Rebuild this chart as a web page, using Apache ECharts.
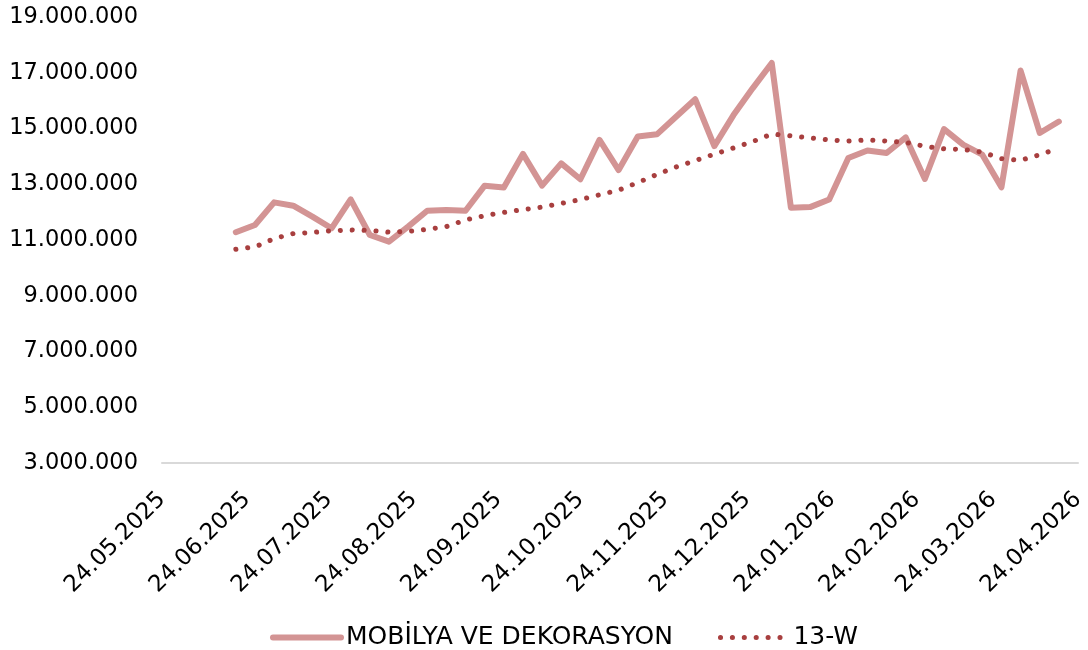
<!DOCTYPE html>
<html lang="tr" style="height: 100%;margin: 0;background-color: #ffffff;">
<head>
    <meta charset="UTF-8">
    <title>chart</title>
</head>
<body style="height: 100%;margin: 0;background-color: #ffffff;">
<div id="chart" style="width: 1088px;height: 650px;margin: 0;"></div>
<script src="https://cdn.jsdelivr.net/npm/echarts@6/dist/echarts.min.js"></script>
<script>
    // weekly dates (dd.mm.yyyy)
    var dates = ["20.06.2025", "27.06.2025", "04.07.2025", "11.07.2025", "18.07.2025", "25.07.2025",
        "01.08.2025", "08.08.2025", "15.08.2025", "22.08.2025", "29.08.2025", "05.09.2025",
        "12.09.2025", "19.09.2025", "26.09.2025", "03.10.2025", "10.10.2025", "17.10.2025",
        "24.10.2025", "31.10.2025", "07.11.2025", "14.11.2025", "21.11.2025", "28.11.2025",
        "05.12.2025", "12.12.2025", "19.12.2025", "26.12.2025", "02.01.2026", "09.01.2026",
        "16.01.2026", "23.01.2026", "30.01.2026", "06.02.2026", "13.02.2026", "20.02.2026",
        "27.02.2026", "06.03.2026", "13.03.2026", "20.03.2026", "27.03.2026", "03.04.2026",
        "10.04.2026", "17.04.2026"];
    var mobilya = [11280000, 11540000, 12350000, 12230000, 11840000, 11420000,
        12460000, 11180000, 10940000, 11480000, 12050000, 12080000,
        12050000, 12950000, 12880000, 14090000, 12950000, 13750000,
        13180000, 14590000, 13510000, 14710000, 14790000, 15420000,
        16050000, 14370000, 15480000, 16440000, 17350000, 12160000,
        12180000, 12450000, 13940000, 14210000, 14120000, 14680000,
        13190000, 14980000, 14420000, 14060000, 12890000, 17080000,
        14840000, 15250000];
    var w13 = [10670000, 10750000, 11050000, 11230000, 11270000, 11330000,
        11360000, 11340000, 11280000, 11310000, 11380000, 11480000,
        11720000, 11870000, 11990000, 12090000, 12180000, 12310000,
        12450000, 12620000, 12790000, 13060000, 13350000, 13620000,
        13850000, 14080000, 14300000, 14530000, 14800000, 14740000,
        14660000, 14590000, 14550000, 14590000, 14550000, 14500000,
        14360000, 14270000, 14250000, 14150000, 13920000, 13860000,
        14060000, 14290000];
    var tickLabels = ["24.05.2025", "24.06.2025", "24.07.2025", "24.08.2025", "24.09.2025", "24.10.2025",
        "24.11.2025", "24.12.2025", "24.01.2026", "24.02.2026", "24.03.2026", "24.04.2026"];
    var legendNames = ["MOBİLYA VE DEKORASYON", "13-W"];

    function parseDate(s) {
        var p = s.split(".");
        return new Date(+p[2], +p[1] - 1, +p[0]).getTime();
    }

    function dotted(n) {
        var s = String(n);
        return s.replace(/\B(?=(\d{3})+(?!\d))/g, ".");
    }

    var tickValues = tickLabels.map(parseDate);
    var labelByTime = {};
    tickLabels.forEach(function (t, i) {
        labelByTime[tickValues[i]] = t;
    });

    var chartContainer = document.getElementById("chart");
    var myChart = echarts.init(chartContainer, null, {renderer: 'canvas'});

    var font = "DejaVu Sans";
    var option = {
        backgroundColor: '#ffffff',
        animation: false,
        textStyle: {fontFamily: font},
        grid: {
            left: 162,
            right: 10,
            top: 17,
            bottom: 187,
            outerBoundsMode: 'none'
        },
        legend: {
            data: legendNames,
            left: 265,
            top: 620,
            itemWidth: 68,
            itemHeight: 26,
            itemGap: 45,
            itemStyle: {opacity: 0},
            lineStyle: {width: 'inherit'},
            textStyle: {fontSize: 25, color: '#000', fontFamily: font}
        },
        xAxis: {
            type: 'value',
            min: tickValues[0],
            max: tickValues[tickValues.length - 1],
            splitLine: {show: false},
            axisTick: {show: false},
            axisLine: {lineStyle: {color: '#d9d9d9', width: 2}},
            axisLabel: {
                customValues: tickValues,
                rotate: 45,
                margin: 33,
                fontSize: 23,
                color: '#000',
                fontFamily: font,
                formatter: function (v) {
                    return labelByTime[v] || '';
                }
            }
        },
        yAxis: {
            type: 'value',
            min: 3000000,
            max: 19000000,
            interval: 2000000,
            splitLine: {show: false},
            axisLine: {show: false},
            axisTick: {show: false},
            axisLabel: {
                margin: 24,
                fontSize: 22.5,
                color: '#000',
                fontFamily: font,
                formatter: function (v) {
                    return dotted(v);
                }
            }
        },
        series: [{
            name: legendNames[0],
            type: 'line',
            symbol: 'none',
            data: dates.map(function (d, i) {
                return [parseDate(d), mobilya[i]];
            }),
            itemStyle: {color: '#d39494'},
            lineStyle: {color: '#d39494', width: 6, cap: 'round', join: 'round'}
        }, {
            name: legendNames[1],
            type: 'line',
            symbol: 'none',
            data: dates.map(function (d, i) {
                return [parseDate(d), w13[i]];
            }),
            itemStyle: {color: '#a83f3f'},
            lineStyle: {color: '#a83f3f', width: 5, type: [0.1, 11.8], cap: 'round'}
        }]
    };
    myChart.setOption(option, true);
</script>
</body>
</html>
